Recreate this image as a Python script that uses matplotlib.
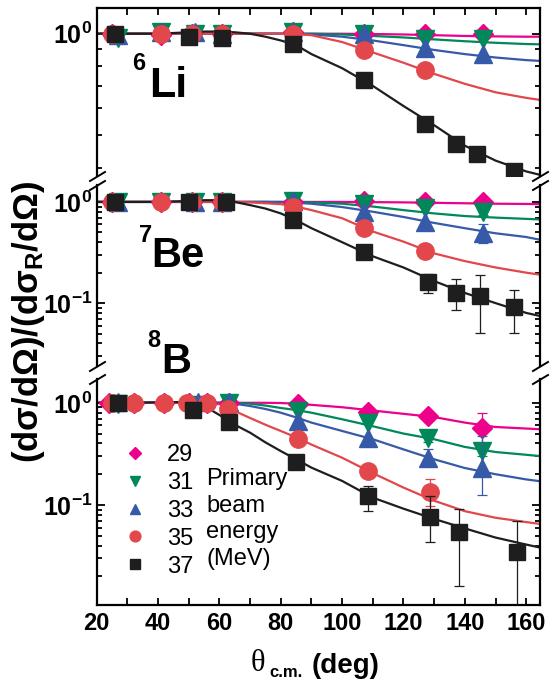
import matplotlib
matplotlib.use('Agg')
import matplotlib.pyplot as plt
import numpy as np
from matplotlib.ticker import LogLocator, NullFormatter

plt.rcParams['font.family'] = ['Liberation Sans', 'DejaVu Sans']
plt.rcParams['mathtext.fontset'] = 'custom'
plt.rcParams['mathtext.rm'] = 'Liberation Sans:bold'
plt.rcParams['mathtext.bf'] = 'Liberation Sans:bold'
plt.rcParams['mathtext.it'] = 'Liberation Serif'

# primary beam energies (MeV)
energies = [29, 31, 33, 35, 37]

# ---- 6Li panel: measured ratios ----
li6_deg = {29: [25, 41, 51, 61, 84, 107, 127, 146],
           31: [27, 41, 52, 61, 84, 107, 127, 146],
           33: [27, 41, 52, 61, 84, 107, 127, 146],
           35: [25, 41, 51, 61, 84, 107, 127],
           37: [26, 50, 61, 84, 107, 127, 137, 144, 156]}
li6_val = {29: [1.0, 0.99, 1.0, 1.0, 1.01, 1.0, 1.0, 1.0],
           31: [0.97, 1.01, 1.0, 1.0, 1.01, 1.0, 0.965, 0.965],
           33: [0.99, 1.01, 1.01, 1.0, 1.01, 1.0, 0.91, 0.87],
           35: [1.0, 1.0, 1.0, 1.0, 1.0, 0.895, 0.78],
           37: [1.0, 0.975, 0.97, 0.93, 0.73, 0.54, 0.47, 0.44, 0.39]}
li6_err = {}

# ---- 7Be panel ----
be7_deg = {29: [25, 41, 51, 61, 84, 107, 127, 146],
           31: [27, 41, 52, 61, 84, 107, 127, 146],
           33: [27, 52, 61, 84, 107, 127, 146],
           35: [25, 41, 51, 61, 84, 107, 127],
           37: [26, 50, 62, 84, 107, 128, 137, 145, 156]}
be7_val = {29: [1.0, 1.0, 1.0, 1.0, 1.0, 1.03, 1.0, 0.99],
           31: [0.99, 1.0, 1.0, 1.0, 1.03, 0.95, 0.87, 0.80],
           33: [1.0, 1.0, 1.0, 1.03, 0.80, 0.64, 0.49],
           35: [1.0, 1.0, 1.0, 1.0, 0.90, 0.55, 0.33],
           37: [1.0, 1.0, 1.0, 0.66, 0.32, 0.16, 0.125, 0.117, 0.091]}
be7_err = {29: {146: (0.95, 1.03)},
           31: {146: (0.75, 0.86)},
           33: {146: (0.39, 0.61)},
           37: {128: (0.127, 0.196), 137: (0.086, 0.172),
                145: (0.051, 0.188), 156: (0.051, 0.135)}}

# ---- 8B panel ----
b8_deg = {29: [24, 32, 42, 50, 56, 63, 85.5, 108.5, 128, 145.5],
          31: [27, 51.5, 63, 85.5, 108.5, 128, 145.5],
          33: [27, 53, 63, 85.5, 108.5, 128, 145.5],
          35: [25, 32, 42, 49.5, 56, 62.7, 85.5, 108.5, 128.8],
          37: [27, 51.5, 63, 85, 108.5, 128.8, 138.2, 157]}
b8_val = {29: [1.0, 1.0, 1.0, 1.0, 1.0, 1.0, 0.98, 0.82, 0.74, 0.57],
          31: [0.97, 0.95, 1.0, 0.83, 0.63, 0.45, 0.337],
          33: [1.02, 1.02, 1.01, 0.66, 0.455, 0.29, 0.23],
          35: [1.0, 1.0, 1.0, 1.0, 0.99, 0.87, 0.44, 0.215, 0.134],
          37: [1.0, 0.86, 0.65, 0.263, 0.122, 0.077, 0.054, 0.035]}
b8_err = {29: {145.5: (0.38, 0.80)},
          31: {128: (0.41, 0.49), 145.5: (0.30, 0.37)},
          33: {128: (0.24, 0.35), 145.5: (0.124, 0.47)},
          35: {128.8: (0.098, 0.178)},
          37: {108.5: (0.087, 0.153), 128.8: (0.043, 0.122),
               138.2: (0.016, 0.092), 157: (0.004, 0.07)}}

# ---- calculated curves ----
fit_deg = [20, 30, 40, 50, 55, 60, 65, 70, 75, 80, 85, 90,
           100, 110, 120, 130, 140, 150, 160, 165]
li6_fit = {29: [1.0, 1.0, 1.0, 1.0, 1.0, 1.0, 1.0, 1.0, 1.0, 1.0, 1.0, 1.0,
                1.0, 0.998, 0.995, 0.99, 0.985, 0.982, 0.98, 0.98],
           31: [1.0, 1.0, 1.0, 1.0, 1.0, 1.0, 1.0, 1.0, 1.0, 1.0, 1.0, 1.0,
                0.995, 0.985, 0.975, 0.962, 0.95, 0.94, 0.932, 0.93],
           33: [1.0, 1.0, 1.0, 1.0, 1.0, 1.0, 1.0, 1.0, 1.0, 1.0, 0.998, 0.995,
                0.98, 0.955, 0.925, 0.895, 0.87, 0.85, 0.835, 0.83],
           35: [1.0, 1.0, 1.0, 1.0, 1.0, 1.0, 1.0, 1.0, 1.0, 1.0, 0.998, 0.99,
                0.945, 0.88, 0.82, 0.76, 0.71, 0.67, 0.645, 0.635],
           37: [1.0, 1.0, 1.0, 1.01, 1.015, 1.015, 1.01, 1.0, 0.98, 0.955, 0.925, 0.87,
                0.79, 0.70, 0.61, 0.535, 0.465, 0.42, 0.39, 0.38]}
be7_fit = {29: [1.0, 1.0, 1.0, 1.0, 1.0, 1.0, 1.0, 1.0, 1.0, 1.0, 1.0, 1.0,
                1.0, 0.995, 0.99, 0.98, 0.97, 0.96, 0.955, 0.95],
           31: [1.0, 1.0, 1.0, 1.0, 1.0, 1.0, 1.0, 1.0, 1.0, 1.0, 1.0, 0.99,
                0.96, 0.90, 0.83, 0.77, 0.725, 0.70, 0.68, 0.67],
           33: [1.0, 1.0, 1.0, 1.0, 1.0, 1.0, 1.0, 1.0, 1.0, 0.99, 0.98, 0.96,
                0.89, 0.80, 0.71, 0.62, 0.55, 0.49, 0.45, 0.42],
           35: [1.0, 1.0, 1.0, 1.0, 1.0, 1.0, 1.0, 0.99, 0.97, 0.95, 0.90, 0.83,
                0.69, 0.51, 0.405, 0.31, 0.26, 0.225, 0.20, 0.19],
           37: [1.0, 1.0, 1.0, 1.02, 1.04, 1.04, 1.0, 0.93, 0.86, 0.77, 0.66, 0.55,
                0.40, 0.29, 0.225, 0.165, 0.126, 0.10, 0.08, 0.074]}
b8_fit = {29: [1.0, 1.0, 1.0, 1.0, 1.0, 1.0, 1.0, 1.0, 1.0, 0.995, 0.98, 0.955,
               0.905, 0.84, 0.78, 0.725, 0.64, 0.58, 0.56, 0.55],
          31: [1.0, 1.0, 1.0, 1.0, 1.0, 1.0, 1.0, 0.98, 0.94, 0.89, 0.85, 0.80,
               0.69, 0.59, 0.50, 0.44, 0.37, 0.33, 0.31, 0.30],
          33: [1.0, 1.0, 1.0, 1.0, 1.0, 1.0, 0.98, 0.93, 0.87, 0.80, 0.72, 0.64,
               0.53, 0.44, 0.35, 0.28, 0.23, 0.20, 0.178, 0.17],
          35: [1.0, 1.0, 1.0, 1.0, 1.0, 0.97, 0.83, 0.71, 0.61, 0.53, 0.46, 0.39,
               0.29, 0.205, 0.148, 0.11, 0.087, 0.075, 0.068, 0.065],
          37: [1.0, 1.0, 1.01, 1.02, 0.93, 0.76, 0.61, 0.51, 0.41, 0.337, 0.28, 0.232,
               0.172, 0.118, 0.092, 0.073, 0.059, 0.048, 0.041, 0.038]}

colors = {29: '#EC008C', 31: '#00875A', 33: '#375AA8', 35: '#E2474B', 37: '#1E1E1E'}
markers = {29: 'D', 31: 'v', 33: '^', 35: 'o', 37: 's'}
msize = {29: 10.5, 31: 12.5, 33: 12.5, 35: 12.5, 37: 12}

W, H = 557, 689


def fx(x):
    return x / W


def fy(y):
    return 1 - y / H


def draw_panel(ax, deg, val, err, fit):
    for e in energies:
        ax.plot(fit_deg, fit[e], color=colors[e], lw=1.6, zorder=2)
    for i, e in enumerate(energies):
        d = np.array(deg[e], dtype=float)
        v = np.array(val[e], dtype=float)
        for a, (lo, hi) in err.get(e, {}).items():
            y = v[list(deg[e]).index(a)]
            ax.errorbar([a], [y], yerr=[[y - lo], [hi - y]], fmt='none',
                        ecolor=colors[e], elinewidth=0.9, capsize=3.6,
                        capthick=0.9, zorder=3 + i)
        ax.plot(d, v, ls='none', marker=markers[e], ms=msize[e],
                color=colors[e], mec=colors[e], zorder=4 + i, label=str(e))


def style(ax, ylim, yt, ytl):
    ax.set_yscale('log')
    ax.set_xlim(20, 164.5)
    ax.set_ylim(*ylim)
    ax.set_yticks(yt)
    ax.set_yticklabels(ytl)
    ax.yaxis.set_minor_locator(LogLocator(base=10, subs=np.arange(2, 10)))
    ax.yaxis.set_minor_formatter(NullFormatter())
    ax.tick_params(axis='y', which='both', direction='in', left=True,
                   right=True, labelsize=18, width=1.3, pad=3)
    ax.tick_params(axis='y', which='major', length=6)
    ax.tick_params(axis='y', which='minor', length=3.5)
    ax.set_xticks(range(20, 161, 20))
    ax.set_xticks(range(30, 161, 20), minor=True)
    for s in ax.spines.values():
        s.set_linewidth(1.6)


def breaks(ax, y):
    ax.plot([0, 1], [y, y], transform=ax.transAxes, ls='none',
            marker=[(-1, -0.6), (1, 0.6)], ms=12, mew=1.4, color='k',
            mec='k', clip_on=False, zorder=10)


fig = plt.figure(figsize=(W / 100, H / 100), dpi=100)
left, width = fx(96.7), (540 - 96.7) / W
ax_li = fig.add_axes([left, fy(176), width, (176 - 8.3) / H])
ax_be = fig.add_axes([left, fy(366), width, (366 - 185) / H])
ax_b = fig.add_axes([left, fy(605), width, (605 - 379) / H])

draw_panel(ax_li, li6_deg, li6_val, li6_err, li6_fit)
draw_panel(ax_be, be7_deg, be7_val, be7_err, be7_fit)
draw_panel(ax_b, b8_deg, b8_val, b8_err, b8_fit)

style(ax_li, (0.378, 1.19), [1], [r'$\mathbf{10^{0}}$'])
style(ax_be, (0.0239, 1.47), [0.1, 1], [r'$\mathbf{10^{-1}}$', r'$\mathbf{10^{0}}$'])
style(ax_b, (0.0105, 1.71), [0.1, 1], [r'$\mathbf{10^{-1}}$', r'$\mathbf{10^{0}}$'])

# x ticks: top frame on first panel, bottom frame on last
ax_li.spines['bottom'].set_visible(False)
ax_li.tick_params(axis='x', which='both', direction='in', top=True, bottom=False,
                  labeltop=False, labelbottom=False, length=5, width=1.3)
ax_be.spines['top'].set_visible(False)
ax_be.spines['bottom'].set_visible(False)
ax_be.tick_params(axis='x', which='both', top=False, bottom=False,
                  labeltop=False, labelbottom=False)
ax_b.spines['top'].set_visible(False)
ax_b.tick_params(axis='x', which='both', direction='in', top=False, bottom=True,
                 length=5, width=1.3, labelsize=17, pad=5)
for lab in ax_b.get_xticklabels():
    lab.set_fontweight('bold')

breaks(ax_li, 0)
breaks(ax_be, 1)
breaks(ax_be, 0)
breaks(ax_b, 1)

# nuclide labels
fig.text(fx(132), fy(70), '6', fontsize=17, fontweight='bold', va='baseline')
fig.text(fx(149), fy(97), 'Li', fontsize=31, fontweight='bold', va='baseline')
fig.text(fx(139), fy(242), '7', fontsize=17, fontweight='bold', va='baseline')
fig.text(fx(151), fy(267), 'Be', fontsize=30, fontweight='bold', va='baseline')
fig.text(fx(147), fy(347), '8', fontsize=17, fontweight='bold', va='baseline')
fig.text(fx(161), fy(373), 'B', fontsize=30, fontweight='bold', va='baseline')

# legend
ax_b.legend(loc='upper left', bbox_to_anchor=(fx(123), fy(444)),
            bbox_transform=fig.transFigure, frameon=False, fontsize=17,
            markerscale=0.62, handlelength=1.0, handletextpad=0.86,
            labelspacing=0.25, borderpad=0, borderaxespad=0)
for i, line in enumerate(['Primary', 'beam', 'energy', '(MeV)']):
    fig.text(fx(206), fy(485 + 26.7 * i), line, fontsize=17, va='baseline')

# axis titles
fig.text(fx(29), fy(322), r'$\mathbf{(d\sigma/d\Omega)/(d\sigma_R/d\Omega)}$',
         fontsize=25, rotation=90, ha='center', va='center')
fig.text(fx(250), fy(671), r'$\theta$', fontsize=22, va='baseline')
fig.text(fx(269), fy(677), 'c.m.', fontsize=12, fontweight='bold', va='baseline')
fig.text(fx(312), fy(673), '(deg)', fontsize=20, fontweight='bold', va='baseline')

fig.savefig('out.png', dpi=100)
